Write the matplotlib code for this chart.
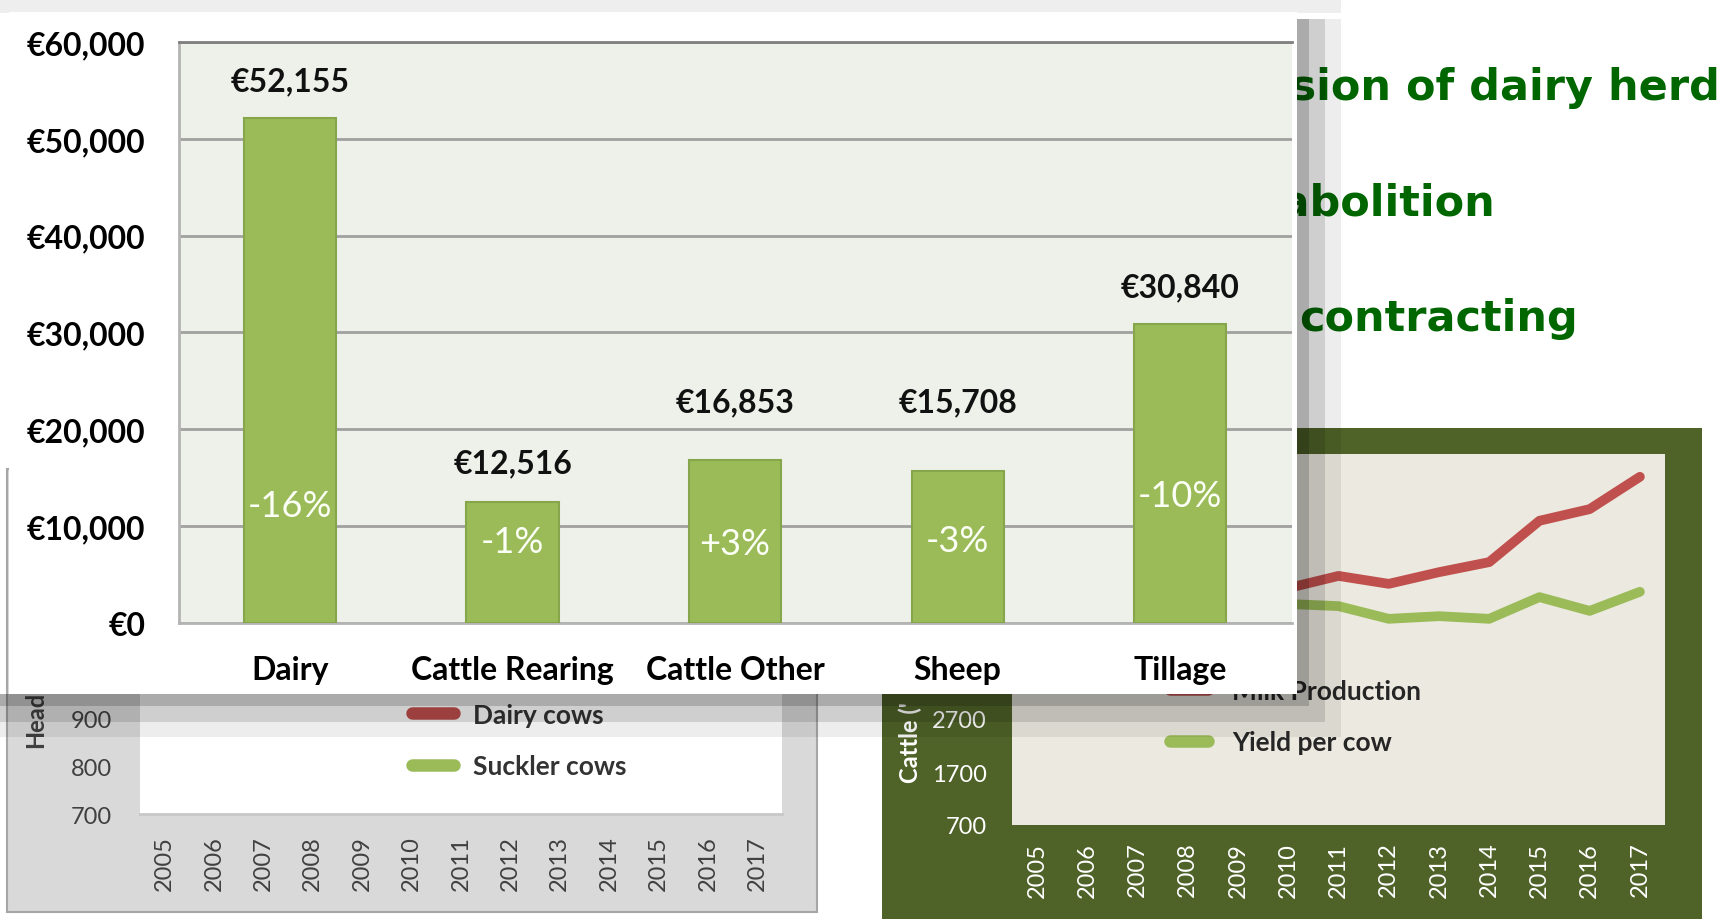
import matplotlib.pyplot as plt
from matplotlib.patches import Rectangle
from matplotlib.lines import Line2D

plt.rcParams['font.family'] = ['Lato', 'DejaVu Sans']

# front chart: family farm income by farm type
farm_types = ['Dairy', 'Cattle Rearing', 'Cattle Other', 'Sheep', 'Tillage']
farm_income = [52155, 12516, 16853, 15708, 30840]
income_label_y = [56000, 16500, 22800, 22800, 34700]
income_change = ['-16%', '-1%', '+3%', '-3%', '-10%']
change_label_y = [12100, 8400, 8130, 8440, 13100]
income_ticks = [0, 10000, 20000, 30000, 40000, 50000, 60000]

# slide bullets (left part is hidden behind the chart)
bullets = ['Expansion of dairy herd', 'Milk quota abolition', 'contracting']

# charts in the background (only the lower part is visible)
years = [str(y) for y in range(2005, 2018)]
herd_series = ['Dairy cows', 'Suckler cows']
herd_ticks = [700, 800, 900]
milk_series = ['Milk Production', 'Yield per cow']
milk_years = ['2010', '2011', '2012', '2013', '2014', '2015', '2016', '2017']
milk_production = [5170, 5400, 5250, 5470, 5660, 6440, 6660, 7270]
yield_per_cow = [4870, 4830, 4590, 4640, 4590, 5000, 4740, 5100]
milk_ticks = [700, 1700, 2700]

RED = '#c0504d'
GREEN = '#9bbb59'
W, H = 1726, 920


def box(l, t, r, b):
    # pixel box -> figure fraction
    return [l / W, 1 - b / H, (r - l) / W, (b - t) / H]


fig = plt.figure(figsize=(W / 100, H / 100), dpi=100)

# --- slide background ---
bg = fig.add_axes([0, 0, 1, 1], zorder=0)
bg.set_xlim(0, W)
bg.set_ylim(H, 0)
bg.axis('off')
bg.add_patch(Rectangle((0, 0), 1341, 14, fc='#eeeeee', ec='none'))
bg.add_patch(Rectangle((7, 470), 810, 443, fc='#d9d9d9', ec='#a6a6a6', lw=1.5))
bg.add_patch(Rectangle((882, 429), 820, 500, fc='#4f6228', ec='none'))
for txt, x_end, base in zip(bullets, [1720, 1495, 1578], [100, 216, 331]):
    bg.text(x_end, base, txt, ha='right', va='baseline', fontsize=31,
            fontweight='bold', color='#006600', family='DejaVu Sans')
bg.text(36, 748, 'Head', rotation=90, ha='center', va='bottom',
        fontsize=17, fontweight='bold', color='#404040')
bg.text(910, 783, "Cattle ('", rotation=90, ha='center', va='bottom',
        fontsize=17, fontweight='bold', color='white')

# --- herd chart (bottom left) ---
axh = fig.add_axes(box(140, 435, 782, 815), zorder=1)
axh.set_facecolor('white')
axh.set_xlim(-0.5, len(years) - 0.5)
axh.set_ylim(700, 1500)
axh.set_xticks(range(len(years)), labels=years, rotation=90, fontsize=17, color='#404040')
axh.set_yticks(herd_ticks, labels=[str(t) for t in herd_ticks], fontsize=17, color='#404040')
axh.tick_params(axis='x', length=0, pad=15)
axh.tick_params(axis='y', length=0, pad=20)
for s in ['top', 'right', 'left']:
    axh.spines[s].set_visible(False)
axh.spines['bottom'].set_color('#c8c8c8')
axh.spines['bottom'].set_linewidth(2)
h_handles = [Line2D([], [], color=c, lw=9, solid_capstyle='round') for c in [RED, GREEN]]
axh.legend(h_handles, herd_series, loc='center left', bbox_to_anchor=(412 / W, 1 - 741.5 / H),
           bbox_transform=fig.transFigure, frameon=False, borderpad=0, borderaxespad=0,
           handlelength=1.6, handletextpad=0.72, labelspacing=1.05,
           prop={'size': 19, 'weight': 'bold'}, labelcolor='#333333')

# --- milk chart (bottom right) ---
axm = fig.add_axes(box(1012, 455, 1665, 826), zorder=1)
axm.set_facecolor('#ece9e0')
axm.set_xlim(-0.5, len(years) - 0.5)
axm.set_ylim(700, 7700)
mx = [years.index(y) for y in milk_years]
axm.plot(mx, milk_production, color=RED, lw=7, solid_capstyle='round', solid_joinstyle='round')
axm.plot(mx, yield_per_cow, color=GREEN, lw=7, solid_capstyle='round', solid_joinstyle='round')
axm.set_xticks(range(len(years)), labels=years, rotation=90, fontsize=17, color='white')
axm.set_yticks(milk_ticks, labels=[str(t) for t in milk_ticks], fontsize=17, color='white')
axm.tick_params(axis='x', length=0, pad=12)
axm.tick_params(axis='y', length=0, pad=18)
for s in axm.spines.values():
    s.set_visible(False)
m_handles = [Line2D([], [], color=c, lw=9, solid_capstyle='round') for c in [RED, GREEN]]
axm.legend(m_handles, milk_series, loc='center left', bbox_to_anchor=(1170 / W, 1 - 717.5 / H),
           bbox_transform=fig.transFigure, frameon=False, borderpad=0, borderaxespad=0,
           handlelength=1.44, handletextpad=0.9, labelspacing=1.05,
           prop={'size': 19, 'weight': 'bold'}, labelcolor='#262626')

# --- drop shadow + white panel of the front chart ---
ov = fig.add_axes([0, 0, 1, 1], zorder=2)
ov.set_xlim(0, W)
ov.set_ylim(H, 0)
ov.axis('off')
ov.patch.set_visible(False)
ov.add_patch(Rectangle((0, 695), 1297, 12, fc='black', alpha=0.33, ec='none'))
ov.add_patch(Rectangle((1297, 20), 12, 687, fc='black', alpha=0.33, ec='none'))
ov.add_patch(Rectangle((0, 707), 1309, 16, fc='black', alpha=0.19, ec='none'))
ov.add_patch(Rectangle((1309, 20), 16, 703, fc='black', alpha=0.19, ec='none'))
ov.add_patch(Rectangle((0, 723), 1325, 15, fc='black', alpha=0.07, ec='none'))
ov.add_patch(Rectangle((1325, 20), 16, 718, fc='black', alpha=0.07, ec='none'))
ov.add_patch(Rectangle((9, 13), 1288, 682, fc='white', ec='none'))

# --- front chart ---
ax = fig.add_axes(box(178.6, 43.3, 1291.6, 623.6), zorder=3)
ax.set_facecolor('#eef1e9')
x = range(len(farm_types))
ax.bar(x, farm_income, width=0.415, color=GREEN, edgecolor='#86a64c', linewidth=1.5, zorder=3)
for i, v in enumerate(farm_income):
    ax.text(i, income_label_y[i], f'€{v:,}', ha='center', va='center',
            fontsize=23, fontweight='bold', color='#111111')
    ax.text(i, change_label_y[i], income_change[i], ha='center', va='center',
            fontsize=26, color='#fbfff5', zorder=4)
ax.set_xlim(-0.5, len(farm_types) - 0.5)
ax.set_ylim(income_ticks[0], income_ticks[-1])
ax.set_yticks(income_ticks, labels=[f'€{t:,}' for t in income_ticks], fontsize=23, fontweight='bold')
ax.set_xticks(x, labels=farm_types, fontsize=23, fontweight='bold')
ax.tick_params(axis='y', length=0, pad=24)
ax.tick_params(axis='x', length=0, pad=23)
ax.set_axisbelow(True)
ax.yaxis.grid(True, color='#a0a0a0', lw=2)
ax.spines['right'].set_visible(False)
ax.spines['top'].set_color('#808080')
ax.spines['top'].set_linewidth(2)
for s in ['left', 'bottom']:
    ax.spines[s].set_color('#b4b4b4')
    ax.spines[s].set_linewidth(2)

fig.savefig('out.png', dpi=100)
